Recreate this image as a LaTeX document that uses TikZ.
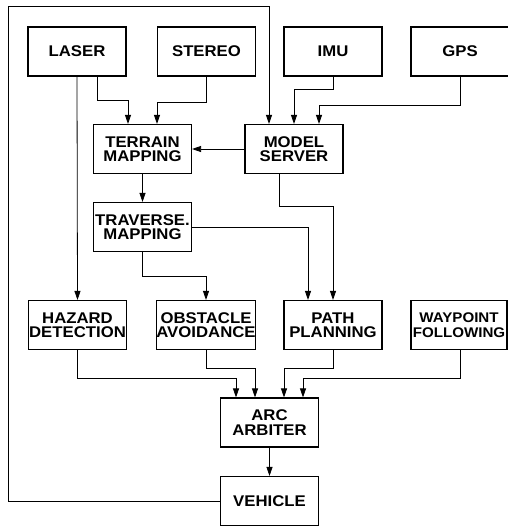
\documentclass[tikz,border=0pt]{standalone}
\usepackage{fontspec}
\setmainfont{Liberation Sans}[FakeStretch=1.08]
\usepackage{tikz}
\usetikzlibrary{arrows.meta, calc}

\tikzset{
    modulo/.style={draw, line width=1.1pt, minimum width=98pt, minimum height=49pt,
        inner sep=0pt, align=center, font=\fontsize{15.5}{14.5}\selectfont\bfseries},
    flujo/.style={->, line width=0.8pt}
}

\begin{document}
\begin{tikzpicture}[x=1pt, y=-1pt, >={Triangle[length=9pt,width=6pt]}]

    \useasboundingbox (0,0) rectangle (507,528);

    % Sensores
    \node[modulo] (laser)  at (77,51.5)  {LASER};
    \node[modulo] (stereo) at (206.5,51.5) {STEREO};
    \node[modulo] (imu)    at (333,51.5) {IMU};
    \node[modulo] (gps)    at (460,51.5) {GPS};

    % Mapas y modelo
    \node[modulo] (terrain)  at (142.5,149) {TERRAIN\\MAPPING};
    \node[modulo] (model)    at (294,149)   {MODEL\\SERVER};
    \node[modulo] (traverse) at (142.5,227) {TRAVERSE.\\MAPPING};

    % Comportamientos
    \node[modulo] (hazard)   at (77.5,325) {HAZARD\\DETECTION};
    \node[modulo] (obstacle) at (206,325)  {OBSTACLE\\AVOIDANCE};
    \node[modulo] (path)     at (333,325)  {PATH\\PLANNING};
    \node[modulo, minimum width=96pt, font=\fontsize{14}{14.5}\selectfont\bfseries]
        (waypoint) at (459,325) {WAYPOINT\\FOLLOWING};

    % Arbitro y vehiculo
    \node[modulo] (arc)     at (269.5,422.5) {ARC\\ARBITER};
    \node[modulo] (vehicle) at (269.5,501)   {VEHICLE};

    % Entradas a los mapas
    \draw[flujo] (laser.south) -- (hazard.north);
    \draw[flujo] ([xshift=20pt]laser.south) -- ++(0,24) -| ([xshift=-14.5pt]terrain.north);
    \draw[flujo] (stereo.south) -- ++(0,26) -| ([xshift=14.5pt]terrain.north);
    \draw[flujo] (imu.south) -- ++(0,13) -| (model.north);
    \draw[flujo] (gps.south) -- ++(0,29) -| ([xshift=25pt]model.north);
    \draw[flujo] (model.west) -- (terrain.east);
    \draw[flujo] (terrain.south) -- (traverse.north);

    % Hacia los comportamientos
    \draw[flujo] ([xshift=-15pt]model.south) -- ++(0,32) -| (path.north);
    \draw[flujo] (traverse.east) -| ([xshift=-25pt]path.north);
    \draw[flujo] (traverse.south) -- ++(0,24) -| (obstacle.north);

    % Votos al arbitro
    \draw[flujo] (hazard.south) -- ++(0,28) -| ([xshift=-33.5pt]arc.north);
    \draw[flujo] (obstacle.south) -- ++(0,18) -| ([xshift=-14.5pt]arc.north);
    \draw[flujo] (path.south) -- ++(0,18) -| ([xshift=14.5pt]arc.north);
    \draw[flujo] ([xshift=1pt]waypoint.south) -- ++(0,28) -| ([xshift=33.5pt]arc.north);
    \draw[flujo] (arc.south) -- (vehicle.north);

    % Realimentacion del vehiculo
    \coordinate (lazo) at (8,6);
    \draw[flujo] (vehicle.west) -| (lazo) -| ([xshift=-25pt]model.north);

\end{tikzpicture}
\end{document}
